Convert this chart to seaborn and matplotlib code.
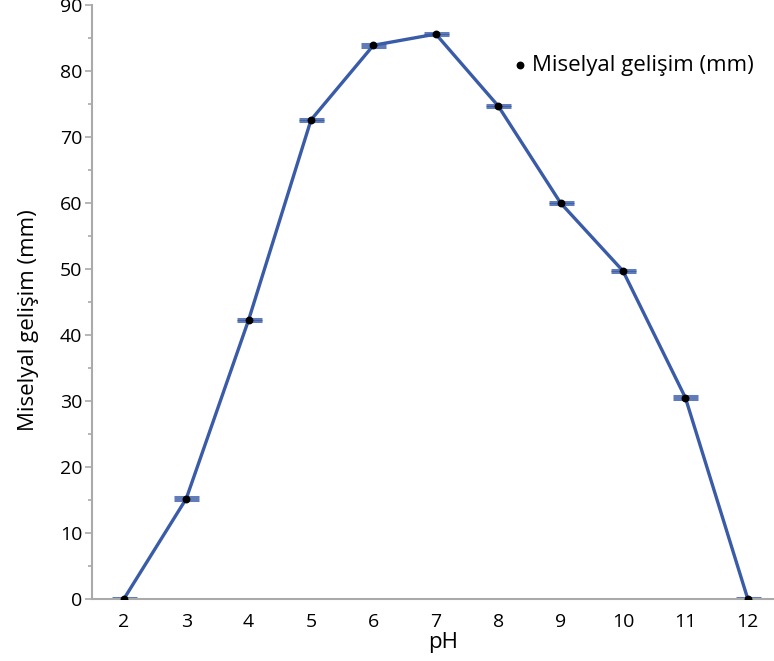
import matplotlib
matplotlib.use("Agg")
import matplotlib.pyplot as plt
import seaborn as sns
import pandas as pd
from matplotlib.ticker import MultipleLocator

sns.set_theme(style="white")
plt.rcParams['font.family'] = ['Open Sans', 'DejaVu Sans']
plt.rcParams['text.color'] = 'black'
plt.rcParams['axes.labelcolor'] = 'black'
plt.rcParams['xtick.color'] = 'black'
plt.rcParams['ytick.color'] = 'black'

ph = [2, 3, 4, 5, 6, 7, 8, 9, 10, 11, 12]
growth = [0, 15.2, 42.3, 72.6, 83.9, 85.6, 74.7, 60.0, 49.7, 30.5, 0]
err = [0.2] * len(ph)

df = pd.DataFrame({"pH": ph, "growth": growth})
blue = "#3a5ba8"

fig = plt.figure(figsize=(7.74, 6.61), dpi=100)
ax = fig.add_axes([0.1189, 0.0938, 0.8811, 0.8986])

ax.errorbar(df["pH"], df["growth"], yerr=err, fmt="none", ecolor=blue,
            elinewidth=0, capsize=9, capthick=2.2, alpha=0.8, zorder=2)
sns.lineplot(data=df, x="pH", y="growth", color=blue, linewidth=2.4, ax=ax,
             zorder=3, legend=False)
sns.scatterplot(data=df, x="pH", y="growth", color="black", s=32, ax=ax,
                zorder=4, edgecolor="black", linewidth=0,
                label="Miselyal gelişim (mm)")

ax.set_xlim(1.49, 12.42)
ax.set_ylim(0, 90)
ax.set_xticks(ph)
ax.yaxis.set_major_locator(MultipleLocator(10))
ax.yaxis.set_minor_locator(MultipleLocator(5))
for s in ["top", "right"]:
    ax.spines[s].set_visible(False)
for s in ["left", "bottom"]:
    ax.spines[s].set_color("#aaaaaa")
    ax.spines[s].set_linewidth(1.5)
ax.tick_params(axis="y", which="major", length=5, width=1.2, color="#aaaaaa",
               labelcolor="black", labelsize=14, left=True, pad=2)
ax.tick_params(axis="y", which="minor", length=3, width=1.2, color="#aaaaaa", left=True)
ax.tick_params(axis="x", which="both", length=0, labelsize=14, labelcolor="black", pad=10)
ax.set_xlabel("pH", fontsize=16)
ax.set_ylabel("Miselyal gelişim (mm)", fontsize=16)
ax.xaxis.set_label_coords(0.515, -0.055)
ax.yaxis.set_label_coords(-0.078, 0.47)

leg = ax.legend(loc="upper right", bbox_to_anchor=(1.0, 0.95), frameon=False,
                fontsize=16, handletextpad=0.05, markerscale=1.0, handlelength=1.0)

fig.savefig("out.png", dpi=100)
